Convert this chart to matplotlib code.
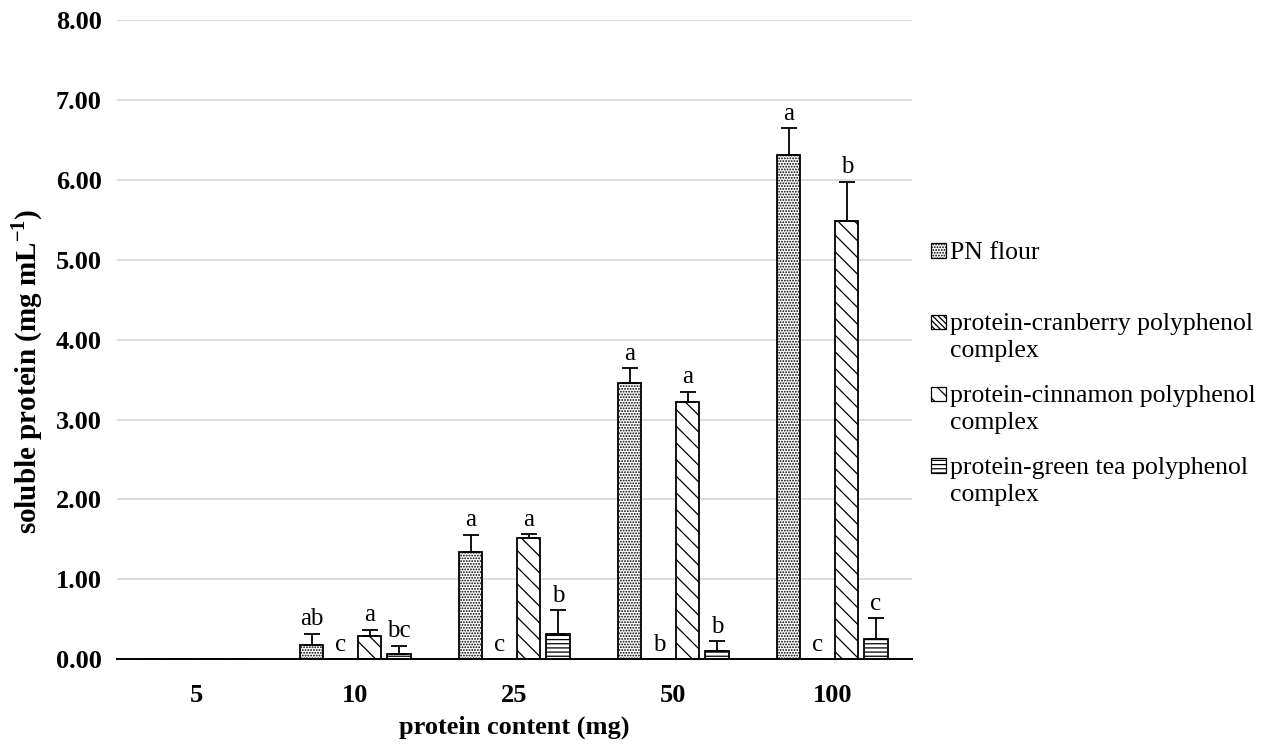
import numpy as np
import matplotlib.pyplot as plt
from matplotlib.patches import Rectangle

# ==========================================
# Data
# ==========================================

categories = ["5", "10", "25", "50", "100"]
series_names = [
    "PN flour",
    "protein-cranberry polyphenol\ncomplex",
    "protein-cinnamon polyphenol\ncomplex",
    "protein-green tea polyphenol\ncomplex",
]

pn_flour = [0.0, 0.18, 1.34, 3.46, 6.31]
cranberry = [0.0, 0.0, 0.0, 0.0, 0.0]
cinnamon = [0.0, 0.29, 1.52, 3.22, 5.48]
green_tea = [0.0, 0.07, 0.31, 0.10, 0.25]

pn_err = [0.0, 0.14, 0.22, 0.18, 0.34]
cranberry_err = [0.0, 0.0, 0.0, 0.0, 0.0]
cinnamon_err = [0.0, 0.08, 0.05, 0.13, 0.50]
green_tea_err = [0.0, 0.10, 0.30, 0.13, 0.26]

pn_letters = ["", "ab", "a", "a", "a"]
cranberry_letters = ["", "c", "c", "b", "c"]
cinnamon_letters = ["", "a", "a", "a", "b"]
green_tea_letters = ["", "bc", "b", "b", "c"]

# ==========================================
# Plot
# ==========================================

plt.rcParams["font.family"] = ["Liberation Serif", "DejaVu Serif"]
plt.rcParams["mathtext.fontset"] = "custom"
plt.rcParams["mathtext.rm"] = "Liberation Serif"
plt.rcParams["mathtext.bf"] = "Liberation Serif:bold"
plt.rcParams["hatch.linewidth"] = 0.9

fig = plt.figure(figsize=(12.7, 7.49), dpi=100)
ax = fig.add_axes([0.092, 0.12, 0.626, 0.853])

x = np.arange(len(categories))
slot = 0.183
width = 0.145

values = [pn_flour, cranberry, cinnamon, green_tea]
errors = [pn_err, cranberry_err, cinnamon_err, green_tea_err]
letters = [pn_letters, cranberry_letters, cinnamon_letters, green_tea_letters]
hatches = ["......", "\\\\\\\\\\\\", "\\\\", "----"]

for i in range(4):
    pos = x + (i - 1.5) * slot
    ax.bar(pos, values[i], width, color="white", edgecolor="black",
           linewidth=1.3, hatch=hatches[i], zorder=3)
    for j in range(len(categories)):
        if errors[i][j] > 0:
            ax.errorbar(pos[j], values[i][j], yerr=[[0], [errors[i][j]]],
                        fmt="none", ecolor="black", elinewidth=1.3,
                        capsize=6, capthick=1.3, zorder=4)
        if letters[i][j]:
            ax.text(pos[j], values[i][j] + errors[i][j] + 0.04, letters[i][j],
                    ha="center", va="bottom", fontsize=18, zorder=5)

ax.set_ylim(0, 8)
ax.set_xlim(-0.5, len(categories) - 0.5)
ax.set_yticks(np.arange(0, 9, 1))
ax.set_yticklabels([f"{v:.2f}" for v in range(9)], fontsize=19, fontweight="bold")
ax.set_xticks(x)
ax.set_xticklabels(categories, fontsize=19, fontweight="bold")
ax.tick_params(length=0, pad=18, axis="x")
ax.tick_params(length=0, pad=11, axis="y")

ax.yaxis.grid(True, color="#d9d9d9", linewidth=1.3, zorder=0)
ax.set_axisbelow(True)
for s in ["top", "right", "left"]:
    ax.spines[s].set_visible(False)
ax.spines["bottom"].set_linewidth(1.4)
ax.spines["bottom"].set_zorder(6)

ax.set_xlabel("protein content (mg)", fontsize=19, fontweight="bold", labelpad=6)
ax.set_ylabel(r"soluble protein (mg mL$^{\mathbf{-1}}$)", fontsize=21,
              fontweight="bold")
ax.yaxis.set_label_coords(-0.09, 0.45)

# legend: handle aligned with first line of each label
legend_rows = [0.665, 0.570, 0.473, 0.378]
for i in range(4):
    y0 = legend_rows[i]
    fig.patches.append(Rectangle((0.733, y0 - 0.009), 0.0115, 0.019,
                                 transform=fig.transFigure, facecolor="white",
                                 edgecolor="black", linewidth=0.9,
                                 hatch=hatches[i]))
    fig.text(0.748, y0 + 0.0125, series_names[i], ha="left", va="top",
             fontsize=18.5, linespacing=1.3)

plt.savefig("out.png", dpi=100)
